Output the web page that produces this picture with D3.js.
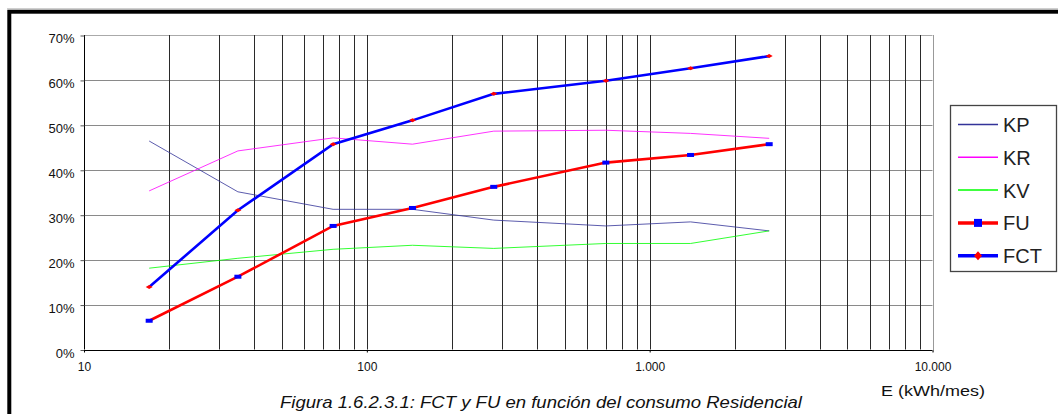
<!DOCTYPE html>
<html><head><meta charset="utf-8">
<script src="https://cdn.jsdelivr.net/npm/d3@7/dist/d3.min.js"></script>
<style>
html,body{margin:0;padding:0;background:#fff;}
svg{display:block;font-family:"Liberation Sans",Arial,sans-serif;}
</style></head>
<body>
<svg id="c" width="1058" height="414"></svg>
<script>
const energy = [17, 35, 76, 145, 281, 700, 1395, 2646];
const KP  = [46.4, 35.1, 31.2, 31.2, 28.8, 27.5, 28.4, 26.4];
const KR  = [35.3, 44.2, 47.1, 45.7, 48.6, 48.8, 48.1, 47.0];
const KV  = [18.1, 20.3, 22.3, 23.2, 22.5, 23.6, 23.6, 26.4];
const FU  = [6.4, 16.2, 27.5, 31.5, 36.2, 41.6, 43.3, 45.7];
const FCT = [13.9, 31.0, 45.7, 51.0, 56.9, 59.8, 62.6, 65.3];
const yTicks = [0, 10, 20, 30, 40, 50, 60, 70];
const xTicks = [10, 100, 1000, 10000];
const xTickLabels = ["10", "100", "1.000", "10.000"];
const seriesNames = ["KP", "KR", "KV", "FU", "FCT"];

const svg = d3.select("#c");
const x = d3.scaleLog().domain([10, 10000]).range([84, 932.5]);
const y = d3.scaleLinear().domain([0, 70]).range([349.5, 35]);

// frame
svg.append("line").attr("x1", 7).attr("x2", 1058).attr("y1", 8.5).attr("y2", 8.5)
  .attr("stroke", "#cfcfcf").attr("stroke-width", 1);
svg.append("rect").attr("x", 9.3).attr("y", 11.7).attr("width", 1070).attr("height", 420)
  .attr("fill", "none").attr("stroke", "#000").attr("stroke-width", 4);

const g = svg.append("g");
// horizontal gridlines
g.selectAll("line.hg").data(yTicks.filter(d => d > 0)).enter().append("line")
  .attr("x1", x(10)).attr("x2", x(10000))
  .attr("y1", d => Math.round(y(d)) + 0.5).attr("y2", d => Math.round(y(d)) + 0.5)
  .attr("stroke", d => d === 70 ? "#aaa" : "#8a8a8a").attr("stroke-width", 1);

// vertical gridlines (log minor)
const vlines = [];
[10, 100, 1000].forEach(dec => { for (let k = 1; k <= 9; k++) { const v = dec * k; if (v > 10) vlines.push(v); } });
g.selectAll("line.vg").data(vlines).enter().append("line")
  .attr("x1", d => Math.round(x(d)) + 0.5).attr("x2", d => Math.round(x(d)) + 0.5)
  .attr("y1", y(70)).attr("y2", y(0))
  .attr("stroke", "#2a2a2a").attr("stroke-width", 1);
// right border
g.append("line").attr("x1", Math.round(x(10000)) + 0.5).attr("x2", Math.round(x(10000)) + 0.5)
  .attr("y1", y(70)).attr("y2", y(0) + 2).attr("stroke", "#999");

// axes
const yAxis = g.append("g").attr("transform", `translate(${Math.round(x(10)) + 0.5},0)`)
  .call(d3.axisLeft(y).tickValues(yTicks).tickSize(4).tickFormat(d => d + "%"));
yAxis.select(".domain").attr("stroke", "#000").attr("d", `M0,${y(70)}V${y(0)}`);
yAxis.selectAll(".tick line").attr("stroke", "#555").attr("transform", "translate(0,0.5)");
yAxis.selectAll(".tick text").attr("font-size", "13px").attr("fill", "#111")
  .attr("font-family", "Liberation Sans, Arial, sans-serif").attr("x", -10).attr("dy", "0.6em");

const xAxis = g.append("g").attr("transform", `translate(0,${Math.round(y(0)) + 0.5})`)
  .call(d3.axisBottom(x).tickValues(xTicks).tickSize(2).tickFormat((d, i) => xTickLabels[i]));
xAxis.select(".domain").attr("stroke", "#000").attr("d", `M${x(10)},0H${x(10000)}`);
xAxis.selectAll(".tick line").attr("stroke", "#000");
xAxis.selectAll(".tick text").attr("font-size", "12px").attr("fill", "#111")
  .attr("font-family", "Liberation Sans, Arial, sans-serif").attr("y", 0).attr("dy", "20px");

// series
const pts = arr => arr.map((v, i) => [energy[i], v]);
const line = d3.line().x(d => x(d[0])).y(d => y(d[1]));
const thin = [[KP, "#333399"], [KR, "#ff00ff"], [KV, "#00ff00"]];
thin.forEach(([s, c]) => {
  g.append("path").attr("d", line(pts(s))).attr("fill", "none").attr("stroke", c).attr("stroke-width", 1).attr("stroke-opacity", 0.8);
});
g.append("path").attr("d", line(pts(FU))).attr("fill", "none").attr("stroke", "#ff0000").attr("stroke-width", 2.6);
g.append("path").attr("d", line(pts(FCT))).attr("fill", "none").attr("stroke", "#0000ff").attr("stroke-width", 2.6);
g.selectAll("rect.fum").data(pts(FU)).enter().append("rect")
  .attr("x", d => x(d[0]) - 3.5).attr("y", d => y(d[1]) - 2).attr("width", 7).attr("height", 4).attr("fill", "#0000ff");
g.selectAll("path.fctm").data(pts(FCT)).enter().append("path")
  .attr("d", d => { const cx = x(d[0]), cy = y(d[1]); return `M${cx - 3.5},${cy}L${cx},${cy - 2}L${cx + 3.5},${cy}L${cx},${cy + 2}Z`; })
  .attr("fill", "#ff0000");

// legend
const lg = svg.append("g");
lg.append("rect").attr("x", 950.5).attr("y", 105.5).attr("width", 106).attr("height", 166)
  .attr("fill", "#fff").attr("stroke", "#444").attr("stroke-width", 1.3);
const legColors = [["#333399", 1.5], ["#ff00ff", 1.5], ["#00ff00", 1.5], ["#ff0000", 3.5], ["#0000ff", 3.5]];
seriesNames.forEach((n, i) => {
  const cy = 124.5 + i * 32.8;
  lg.append("line").attr("x1", 958).attr("x2", 998).attr("y1", cy).attr("y2", cy)
    .attr("stroke", legColors[i][0]).attr("stroke-width", legColors[i][1]);
  if (n === "FU") lg.append("rect").attr("x", 974).attr("y", cy - 4).attr("width", 8).attr("height", 8).attr("fill", "#0000ff");
  if (n === "FCT") lg.append("path").attr("d", `M${974},${cy}L${978},${cy - 4.5}L${982},${cy}L${978},${cy + 4.5}Z`).attr("fill", "#ff0000");
  lg.append("text").attr("x", 1003).attr("y", cy + 7.5).attr("font-size", "20px").attr("fill", "#222").text(n);
});

// axis title
svg.append("text").attr("x", 881).attr("y", 396).attr("font-size", "15.5px").attr("fill", "#111")
  .attr("textLength", 104).attr("lengthAdjust", "spacingAndGlyphs").text("E (kWh/mes)");
// caption
svg.append("text").attr("x", 280).attr("y", 407.5).attr("font-size", "17px").attr("font-style", "italic").attr("fill", "#111")
  .attr("textLength", 522).attr("lengthAdjust", "spacingAndGlyphs").text("Figura 1.6.2.3.1: FCT y FU en función del consumo Residencial");
</script>
</body></html>
